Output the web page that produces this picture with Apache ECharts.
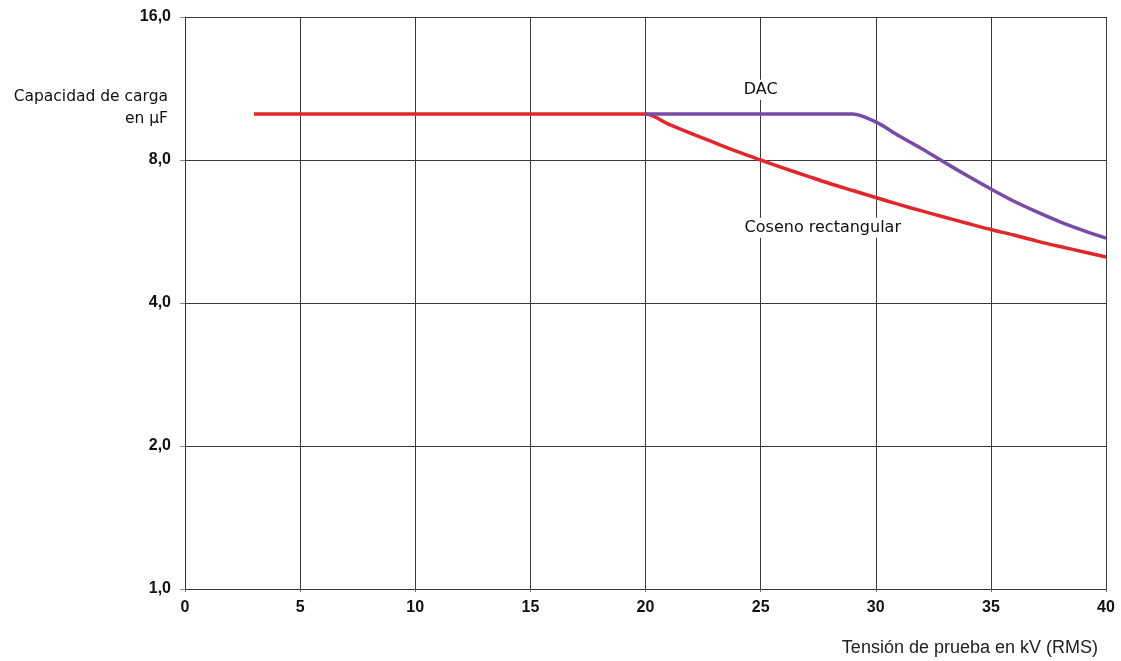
<!DOCTYPE html>
<html>
<head>
<meta charset="utf-8">
<script src="https://cdn.jsdelivr.net/npm/echarts@6/dist/echarts.min.js"></script>
<style>html,body{margin:0;padding:0;background:#fff}#c{width:1121px;height:661px}</style>
</head>
<body>
<div id="c"></div>
<script>
// Data
const xTicks = [0, 5, 10, 15, 20, 25, 30, 35, 40];
const yTicks = [1, 2, 4, 8, 16];
const cosenoX = [3, 20, 21, 22, 23, 24, 25, 26, 27, 28, 29, 30, 31, 32, 33, 34, 35, 36, 37, 38, 39, 40];
const cosenoY = [10, 10, 9.52, 9.09, 8.7, 8.33, 8.0, 7.69, 7.41, 7.14, 6.9, 6.67, 6.45, 6.25, 6.06, 5.88, 5.71, 5.56, 5.4, 5.26, 5.13, 5.0];
const dacX = [20, 29, 30, 31, 32, 33, 34, 35, 36, 37, 38, 39, 40];
const dacY = [10, 10, 9.62, 9.0, 8.45, 7.9, 7.4, 6.95, 6.55, 6.22, 5.93, 5.69, 5.48];
const labelDAC = {text: 'DAC', x: 25, y: 11.25};
const labelCos = {text: 'Coseno rectangular', x: 27.7, y: 5.76};

const zip = (a, b) => a.map((v, i) => [v, b[i]]);
const chart = echarts.init(document.getElementById('c'));
const textFont = 'Tahoma, "DejaVu Sans", sans-serif';
const numFont = '"Liberation Sans", Arial, sans-serif';
chart.setOption({
  animation: false,
  grid: {left: 185, right: 15, top: 17, bottom: 72},
  xAxis: {
    type: 'value', min: 0, max: 40, interval: 5,
    name: 'Tensión de prueba en kV (RMS)',
    nameLocation: 'end', nameGap: 0,
    nameTextStyle: {fontFamily: numFont, fontSize: 18, color: '#222',
      align: 'right', verticalAlign: 'top', padding: [50, 8, 0, 0]},
    axisLine: {show: true, lineStyle: {color: '#333', width: 1}},
    axisTick: {show: true, length: 3, lineStyle: {color: '#666'}},
    axisLabel: {fontFamily: numFont, fontWeight: 'bold', fontSize: 16,
      color: '#111', margin: 11},
    splitLine: {show: true, lineStyle: {color: '#3a3a3a', width: 1}}
  },
  yAxis: {
    type: 'log', logBase: 2, min: 1, max: 16, interval: 1,
    axisLine: {show: true, lineStyle: {color: '#333', width: 1}},
    axisTick: {show: true, length: 5, lineStyle: {color: '#888'}},
    axisLabel: {fontFamily: numFont, fontWeight: 'bold', fontSize: 16,
      color: '#111', margin: 14,
      formatter: v => (yTicks.includes(Math.round(v)) ? Math.round(v).toFixed(1).replace('.', ',') : '')},
    splitLine: {show: true, lineStyle: {color: '#3a3a3a', width: 1}}
  },
  graphic: [{
    type: 'text', x: 168, y: 86,
    style: {text: 'Capacidad de carga\nen µF', font: '15.5px ' + textFont, fill: '#111',
      align: 'right', verticalAlign: 'top', lineHeight: 22}
  }],
  series: [
    {
      name: 'Coseno rectangular', type: 'line', data: zip(cosenoX, cosenoY),
      smooth: 0.3,
      symbol: 'none', lineStyle: {color: '#e3262b', width: 3.5, join: 'round'}, z: 3,
      markPoint: {symbol: 'circle', symbolSize: 0, data: [{coord: [labelCos.x, labelCos.y]}],
        label: {show: true, position: 'inside', formatter: labelCos.text,
          fontFamily: textFont, fontSize: 16, color: '#111',
          backgroundColor: '#fff', padding: [2, 2]}}
    },
    {
      name: 'DAC', type: 'line', data: zip(dacX, dacY),
      smooth: 0.3,
      symbol: 'none', lineStyle: {color: '#7a4aa8', width: 3.5, join: 'round'}, z: 4,
      markPoint: {symbol: 'circle', symbolSize: 0, data: [{coord: [labelDAC.x, labelDAC.y]}],
        label: {show: true, position: 'inside', formatter: labelDAC.text,
          fontFamily: textFont, fontSize: 16, color: '#111',
          backgroundColor: '#fff', padding: [2, 2]}}
    }
  ]
});
</script>
</body>
</html>
